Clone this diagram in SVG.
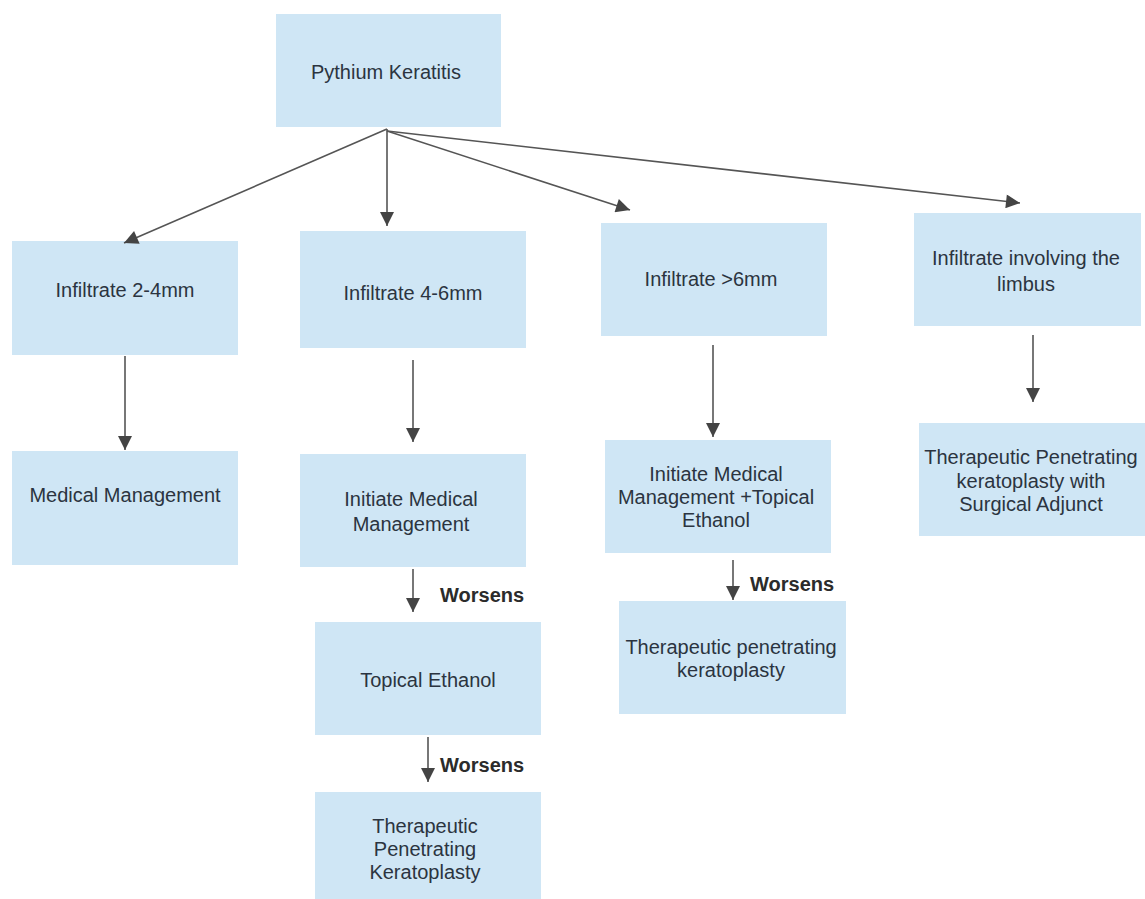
<svg xmlns="http://www.w3.org/2000/svg" width="1145" height="899" viewBox="0 0 1145 899">
<style>
.box{fill:#cfe6f5}
.t{font-family:"Liberation Sans",Arial,sans-serif;font-size:20px;fill:#2b3440;text-anchor:middle}
.w{font-family:"Liberation Sans",Arial,sans-serif;font-size:20px;font-weight:bold;fill:#2b2b2b}
.c{stroke:#555;stroke-width:1.6;fill:none;marker-end:url(#ah)}
</style>
<defs>
<marker id="ah" viewBox="0 0 10 10" refX="10" refY="5" markerWidth="15" markerHeight="14" markerUnits="userSpaceOnUse" orient="auto"><path d="M0,0 L10,5 L0,10 Z" fill="#444"/></marker>
</defs>
<rect width="1145" height="899" fill="#fff"/>
<g id="n0"><rect class="box" x="276" y="14" width="225" height="113"/><text class="t" x="386" y="79">Pythium Keratitis</text></g>
<g id="nA"><rect class="box" x="12" y="241" width="226" height="114"/><text class="t" x="125" y="297">Infiltrate 2-4mm</text></g>
<g id="nB"><rect class="box" x="300" y="231" width="226" height="117"/><text class="t" x="413" y="300">Infiltrate 4-6mm</text></g>
<g id="nC"><rect class="box" x="601" y="223" width="226" height="113"/><text class="t" x="711" y="286">Infiltrate &gt;6mm</text></g>
<g id="nD"><rect class="box" x="914" y="213" width="227" height="113"/><text class="t" x="1026" y="265">Infiltrate involving the</text><text class="t" x="1026" y="291">limbus</text></g>
<g id="nA2"><rect class="box" x="12" y="451" width="226" height="114"/><text class="t" x="125" y="502">Medical Management</text></g>
<g id="nB2"><rect class="box" x="300" y="454" width="226" height="113"/><text class="t" x="411" y="506">Initiate Medical</text><text class="t" x="411" y="531">Management</text></g>
<g id="nB3"><rect class="box" x="315" y="622" width="226" height="113"/><text class="t" x="428" y="687">Topical Ethanol</text></g>
<g id="nB4"><rect class="box" x="315" y="792" width="226" height="107"/><text class="t" x="425" y="833">Therapeutic</text><text class="t" x="425" y="856">Penetrating</text><text class="t" x="425" y="879">Keratoplasty</text></g>
<g id="nC2"><rect class="box" x="605" y="440" width="226" height="113"/><text class="t" x="716" y="481">Initiate Medical</text><text class="t" x="716" y="504">Management +Topical</text><text class="t" x="716" y="527">Ethanol</text></g>
<g id="nC3"><rect class="box" x="619" y="601" width="227" height="113"/><text class="t" x="731" y="654">Therapeutic penetrating</text><text class="t" x="731" y="677">keratoplasty</text></g>
<g id="nD2"><rect class="box" x="919" y="423" width="226" height="113"/><text class="t" x="1031" y="464">Therapeutic Penetrating</text><text class="t" x="1031" y="488">keratoplasty with</text><text class="t" x="1031" y="511">Surgical Adjunct</text></g>
<g id="connectors">
<path class="c" d="M387,129 L124,243"/>
<path class="c" d="M387,129 L387,226"/>
<path class="c" d="M387,131 L630,210"/>
<path class="c" d="M387,131 L1020,203"/>
<path class="c" d="M125,356 L125,450"/>
<path class="c" d="M413,360 L413,442"/>
<path class="c" d="M413,569 L413,612"/>
<path class="c" d="M428,737 L428,782"/>
<path class="c" d="M713,345 L713,437"/>
<path class="c" d="M733,560 L733,600"/>
<path class="c" d="M1033,335 L1033,402"/>
<text class="w" x="440" y="602">Worsens</text>
<text class="w" x="440" y="772">Worsens</text>
<text class="w" x="750" y="591">Worsens</text>
</g>
</svg>
